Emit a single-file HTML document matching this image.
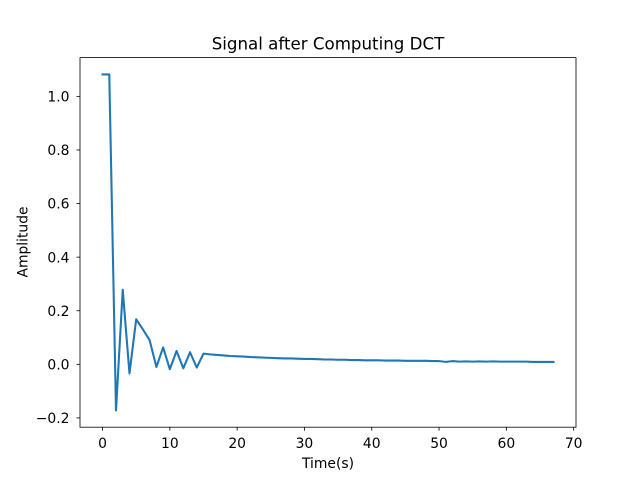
<!DOCTYPE html>
<html><head><meta charset="utf-8"><style>
body{margin:0;background:#fff;}
svg{display:block;font-family:"DejaVu Sans","Liberation Sans",sans-serif;}
</style></head><body>
<svg id="chart" width="640" height="480">
<rect width="640" height="480" fill="#fff"/>
<text x="328" y="49.5" text-anchor="middle" font-size="16.67">Signal after Computing DCT</text>
<g id="plot"></g>
<rect x="80" y="57.6" width="496" height="369.6" fill="none" stroke="#000" stroke-width="0.8"/>
<text x="328" y="468" text-anchor="middle" font-size="13.89">Time(s)</text>
<text transform="translate(27.5,242) rotate(-90)" text-anchor="middle" font-size="13.89">Amplitude</text>
</svg>
<script>
const amplitudes = [1.082,1.082,-0.172,0.278,-0.034,0.168,0.13,0.09,-0.01,0.063,-0.018,0.05,-0.015,0.045,-0.012,0.04,
0.037,0.035,0.033,0.031,0.030,0.029,0.027,0.026,0.025,0.024,0.023,0.022,0.022,0.021,0.020,0.020,0.019,0.018,0.018,0.017,0.017,0.016,0.016,0.015,0.015,0.015,0.014,0.014,0.014,0.013,0.013,0.013,0.013,0.012,0.012,0.009,0.012,0.010,0.011,0.010,0.011,0.010,0.011,0.010,0.010,0.010,0.010,0.010,0.009,0.009,0.009,0.009];
const xTicks = [0,10,20,30,40,50,60,70];
const yTicks = [-0.2,0.0,0.2,0.4,0.6,0.8,1.0];
const yTickLabels = ["−0.2","0.0","0.2","0.4","0.6","0.8","1.0"];

const NS="http://www.w3.org/2000/svg";
const L=80,R=576,T=57.6,B=427.2;
const n=amplitudes.length;
const xmin=-(n-1)*0.05, xmax=(n-1)*1.05;
const ymn=Math.min(...amplitudes), ymx=Math.max(...amplitudes), yr=ymx-ymn;
const ymin=ymn-0.05*yr, ymax=ymx+0.05*yr;
const sx=v=>L+(v-xmin)/(xmax-xmin)*(R-L);
const sy=v=>B-(v-ymin)/(ymax-ymin)*(B-T);
const g=document.getElementById('plot');
function mk(tag,attrs){const e=document.createElementNS(NS,tag);for(const k in attrs)e.setAttribute(k,attrs[k]);g.appendChild(e);return e;}
xTicks.forEach(t=>{
  const x=sx(t);
  const l=mk('line',{x1:x,x2:x,y1:B,y2:B+3.5,stroke:'#000','stroke-width':0.8});
  
  
  const tx=mk('text',{x:x,y:B+21,'text-anchor':'middle','font-size':13.89});
  tx.textContent=t;
  
  
});
yTicks.forEach((t,i)=>{
  const y=sy(t);
  const l=mk('line',{x1:L-3.5,x2:L,y1:y,y2:y,stroke:'#000','stroke-width':0.8});
  
  
  const tx=mk('text',{x:L-10.5,y:y+5.2,'text-anchor':'end','font-size':13.89});
  tx.textContent=yTickLabels[i];
  
  
});
const p=mk('polyline',{points:amplitudes.map((v,i)=>sx(i)+','+sy(v)).join(' '),fill:'none',stroke:'#1f77b4','stroke-width':2.08,'stroke-linejoin':'round','stroke-linecap':'square'});


</script>
</body></html>
